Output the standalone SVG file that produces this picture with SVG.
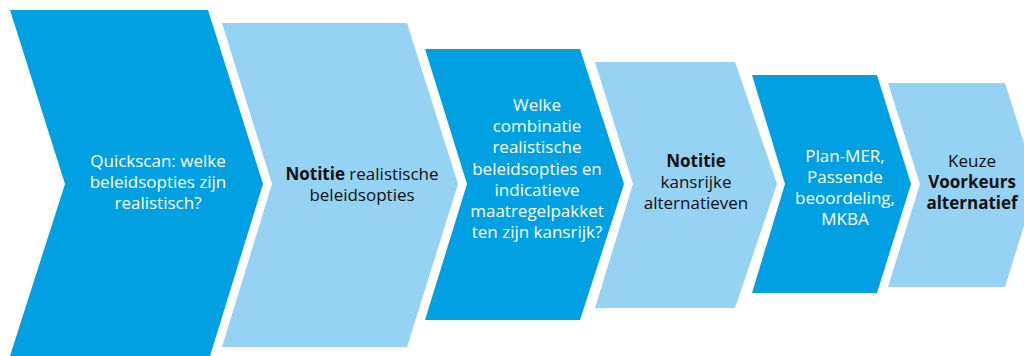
<svg xmlns="http://www.w3.org/2000/svg" width="1024" height="356" viewBox="0 0 1024 356">
<style>
.dark{fill:#00a0e2}
.light{fill:#95d2f4}
text{font-family:"Open Sans","Noto Sans","DejaVu Sans",sans-serif;font-size:17px;text-anchor:middle}
.w{fill:#ffffff}
.k{fill:#111111}
.b{font-weight:bold}
</style>
<rect width="1024" height="356" fill="#ffffff"/>
<g id="step1">
<polygon class="dark" points="10,10 208,10 263,184 210,356 10,356 65,184"/>
<text class="w" x="158" y="167">Quickscan: welke</text>
<text class="w" x="158" y="188">beleidsopties zijn</text>
<text class="w" x="158" y="209">realistisch?</text>
</g>
<g id="step2">
<polygon class="light" points="222,23 407,23 458,184 407,347 222,347 272,184"/>
<text class="k" x="362" y="180"><tspan class="b">Notitie</tspan> realistische</text>
<text class="k" x="362" y="201">beleidsopties</text>
</g>
<g id="step3">
<polygon class="dark" points="425,49 580,49 624,184 580,320 425,320 467,184"/>
<text class="w" x="537" y="111">Welke</text>
<text class="w" x="537" y="132">combinatie</text>
<text class="w" x="537" y="153">realistische</text>
<text class="w" x="537" y="175">beleidsopties en</text>
<text class="w" x="537" y="196">indicatieve</text>
<text class="w" x="537" y="217">maatregelpakket</text>
<text class="w" x="537" y="238">ten zijn kansrijk?</text>
</g>
<g id="step4">
<polygon class="light" points="595,62 735,62 777,184 735,308 595,308 633,184"/>
<text class="k b" x="696" y="167">Notitie</text>
<text class="k" x="696" y="188">kansrijke</text>
<text class="k" x="696" y="209">alternatieven</text>
</g>
<g id="step5">
<polygon class="dark" points="752,75 877,75 911,184 877,293 752,293 785,184"/>
<text class="w" x="845" y="162">Plan-MER,</text>
<text class="w" x="845" y="183">Passende</text>
<text class="w" x="845" y="204">beoordeling,</text>
<text class="w" x="845" y="225">MKBA</text>
</g>
<g id="step6">
<polygon class="light" points="888,83 1005,83 1037,184 1005,287 888,287 920,184"/>
<text class="k" x="972" y="167">Keuze</text>
<text class="k b" x="972" y="188">Voorkeurs</text>
<text class="k b" x="972" y="209">alternatief</text>
</g>
<g id="connectors"></g>
</svg>
